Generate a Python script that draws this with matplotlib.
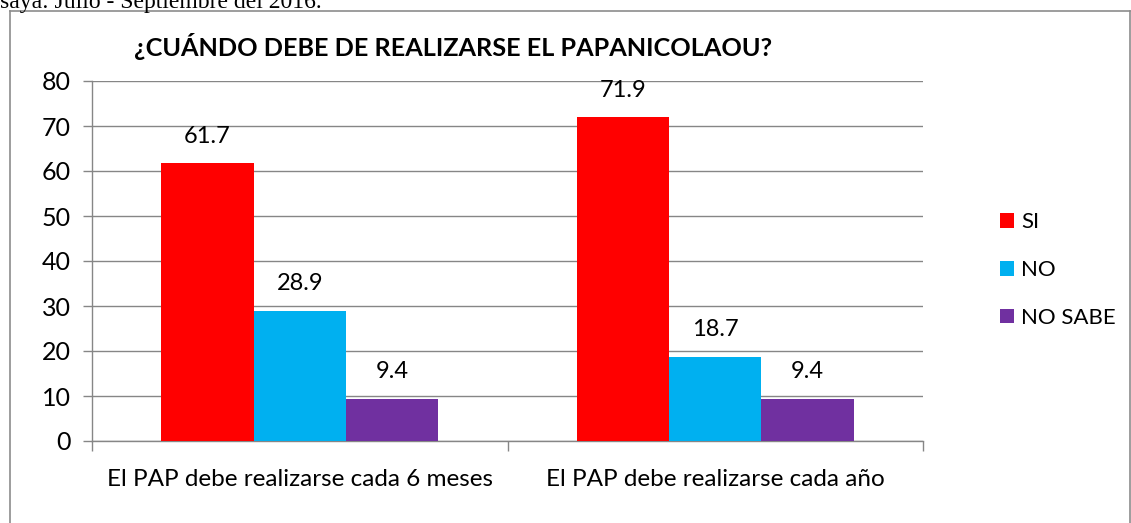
import numpy as np
import matplotlib.pyplot as plt
from matplotlib.lines import Line2D

categorias = ['El PAP debe realizarse cada 6 meses', 'El PAP debe realizarse cada año']
series = ['SI', 'NO', 'NO SABE']
valores_si = [61.7, 71.9]
valores_no = [28.9, 18.7]
valores_nosabe = [9.4, 9.4]
colores = ['#FF0000', '#00B0F0', '#7030A0']

plt.rcParams['font.family'] = ['Lato', 'DejaVu Sans']

W, H = 1131, 523
fig = plt.figure(figsize=(W / 100, H / 100), dpi=100)
ax = fig.add_axes([92 / W, 1 - 441 / H, (923 - 92) / W, (441 - 81) / H])

x = np.arange(len(categorias))
ancho = 1 / 4.5
for i, (vals, col, nombre) in enumerate(zip([valores_si, valores_no, valores_nosabe], colores, series)):
    pos = x + (i - 1) * ancho
    ax.bar(pos, vals, width=ancho, color=col, label=nombre, zorder=3)
    for px, v in zip(pos, vals):
        ax.annotate(f'{v:.1f}', (px, v), xytext=(0, 19.5), textcoords='offset points',
                    ha='center', va='center', fontsize=17, color='black')

ax.set_xlim(-0.5, 1.5)
ax.set_ylim(0, 80)
ax.set_yticks(np.arange(0, 81, 10))
ax.set_xticks(x)
ax.set_xticklabels(categorias, fontsize=17.5)
ax.set_xticks([-0.5, 0.5, 1.5], minor=True)
ax.tick_params(axis='x', which='major', length=0, pad=20)
ax.tick_params(axis='x', which='minor', length=7, width=1, color='#868686', direction='out')
ax.tick_params(axis='y', length=6.5, width=1, color='#868686', labelsize=18, pad=9)
ax.grid(axis='y', color='#868686', linewidth=1.0, zorder=0)
for s in ['top', 'right']:
    ax.spines[s].set_visible(False)
for s in ['left', 'bottom']:
    ax.spines[s].set_color('#868686')
    ax.spines[s].set_linewidth(1.0)
ax.set_axisbelow(True)

fig.text(453 / W, 1 - 47 / H, '¿CUÁNDO DEBE DE REALIZARSE EL PAPANICOLAOU?',
         ha='center', va='center', fontsize=18.2, fontweight='bold')

leg = fig.legend(loc='center left', bbox_to_anchor=(980 / W, 1 - 270 / H), frameon=False,
                 fontsize=16, handlelength=0.65, handleheight=0.65, handletextpad=0.3,
                 labelspacing=1.25)

# borde del gráfico y texto cortado del documento
gris = '#8C8C8C'
fig.add_artist(Line2D([10 / W, 10 / W], [0, 1 - 11 / H], color=gris, lw=1.2))
fig.add_artist(Line2D([10 / W, 1130 / W], [1 - 11 / H, 1 - 11 / H], color=gris, lw=1.2))
fig.add_artist(Line2D([1130 / W, 1130 / W], [0, 1 - 11 / H], color=gris, lw=1.2))
fig.text(0, 1 - 8 / H, 'saya: Julio - Septiembre del 2016.', ha='left', va='baseline',
         fontsize=17, family='Liberation Serif')

fig.savefig('out.png', dpi=100)
